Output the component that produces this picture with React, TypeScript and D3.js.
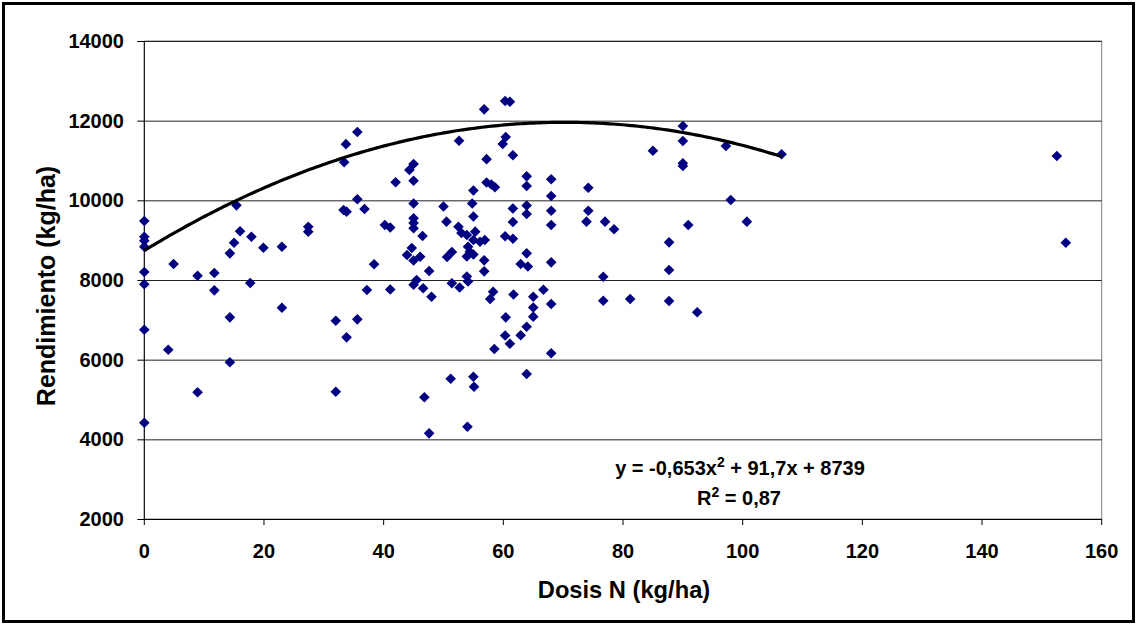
import React from 'react';
import * as d3 from 'd3';

const doseN = [
  33.7, 33.4, 15.4, 0, 0, 0, 0, 33.3, 33.8, 16.0, 15.0, 17.9, 27.4, 27.4, 14.3, 19.9, 23.0, 4.9, 0, 0,
  8.9, 11.7, 11.7, 17.7, 23.0, 14.3, 0, 32.0, 33.8, 4.0, 14.3, 8.9, 32.0, 0,
  35.6, 35.6, 36.8, 35.6, 38.4, 37.2, 40.2, 41.1, 41.1, 42.0, 44.3, 45.0, 45.0, 45.0, 45.0, 45.0,
  45.0, 46.5, 44.7, 43.9, 45.0, 46.1, 47.6, 45.5, 45.0, 46.6, 48.0, 46.8, 47.6, 50.0, 50.5, 51.4,
  50.6, 51.4, 52.7, 51.2, 52.6, 52.5, 53.0, 53.9, 53.9, 55.0, 53.9, 54.1, 55.0, 54.8, 55.0, 55.3,
  55.0, 54.1, 54.4, 56.1, 56.9, 56.8, 56.8, 55.0, 55.1, 54.0, 56.8, 57.2, 57.2, 58.0, 58.6, 58.3,
  57.8, 58.5, 60.3, 61.1, 60.4, 59.9, 61.6, 63.9, 63.9, 61.6, 61.6, 63.9, 63.9, 60.3, 61.6, 63.9,
  62.9, 64.1, 61.7, 60.4, 63.9, 62.9, 60.3, 61.1, 63.9, 65.0, 65.0, 65.0, 66.7, 68.0, 68.0, 68.0,
  68.0, 68.0, 68.0, 68.0, 74.2, 74.2, 73.9, 77.0, 78.5, 76.7, 76.7, 81.2, 85.0, 90.0, 90.0, 90.0,
  90.0, 87.7, 87.7, 87.7, 90.9, 92.4, 97.2, 98.0, 100.7, 106.5, 152.5, 154.0,
];

const yieldKg = [
  11410, 10955, 9875, 9481, 9087, 8987, 8836, 9757, 9715, 9223, 8936, 9087, 9338, 9213, 8670, 8811, 8836, 8402, 8201, 7892,
  8108, 8176, 7741, 7925, 7304, 7063, 6752, 6978, 6561, 6250, 5934, 5181, 5196, 4417,
  11715, 10026, 9782, 7013, 8394, 7749, 9381, 9318, 7761, 10453, 10761, 10912, 10493, 9920, 9549, 9431,
  9298, 9105, 8803, 8628, 8489, 8585, 8226, 8000, 7882, 7792, 7581, 5055, 4151, 9845, 9464, 8703,
  8577, 7917, 7812, 5520, 11495, 9338, 9180, 9130, 8590, 8640, 8088, 7962, 10247, 9920, 9594, 9213,
  9004, 8836, 8710, 8961, 9004, 8494, 8218, 5572, 5321, 4317, 12285, 11033, 10448, 10397, 10327, 7706,
  7523, 6268, 12494, 12476, 11590, 11414, 11131, 10603, 10360, 9795, 9456, 9870, 9657, 9097, 9037, 8670,
  8402, 8339, 7636, 7063, 6827, 6612, 6607, 6401, 5640, 7581, 7309, 7079, 7754, 10528, 10109, 9740,
  9381, 8444, 7397, 6160, 10317, 9740, 9464, 9464, 9273, 8083, 7480, 7523, 11246, 11866, 11489, 10930,
  10862, 8946, 8251, 7473, 9381, 7189, 11364, 10008, 9464, 11156, 11113, 8936,
];

const xTicks = [0, 20, 40, 60, 80, 100, 120, 140, 160];
const yTicks = [2000, 4000, 6000, 8000, 10000, 12000, 14000];

const trendA = -0.653;
const trendB = 91.7;
const trendC = 8739;
const trendXMax = 106.5;

const W = 1137;
const H = 625;
const FONT = '"Liberation Sans", Arial, sans-serif';

export default function App() {
  const x = d3.scaleLinear().domain([0, 160]).range([144.3, 1101.7]);
  const y = d3.scaleLinear().domain([2000, 14000]).range([519, 41]);

  const trendXs = d3.range(0, trendXMax + 0.001, trendXMax / 200);
  const trendPts = trendXs.map((v) => [v, trendA * v * v + trendB * v + trendC] as [number, number]);
  const line = d3
    .line<[number, number]>()
    .x((d) => x(d[0]))
    .y((d) => y(d[1]))
    .curve(d3.curveLinear);

  const diamond = d3.symbol().type(d3.symbolDiamond2).size(72)();

  const [x0, x1] = x.range();
  const [yb, yt] = y.range();

  return (
    <svg
      width={W}
      height={H}
      style={{ position: 'absolute', left: 0, top: 0, background: '#fff' }}
      fontFamily={FONT}
      fontWeight="bold"
    >
      <rect x={0} y={0} width={W} height={H} fill="#fff" />
      <rect x={3.5} y={3.5} width={W - 7} height={H - 7} fill="none" stroke="#000" strokeWidth={3} />

      {/* plot area border */}
      <rect x={x0} y={yt} width={x1 - x0} height={yb - yt} fill="#fff" stroke="#808080" strokeWidth={1} />

      {/* gridlines */}
      {yTicks.map((t) => (
        <line key={'g' + t} x1={x0} x2={x1} y1={y(t) + 0.5} y2={y(t) + 0.5} stroke="#222" strokeWidth={1} />
      ))}

      {/* axes */}
      <line x1={x0} x2={x0} y1={yt} y2={yb} stroke="#000" strokeWidth={1} />
      <line x1={x0} x2={x1} y1={yb + 0.5} y2={yb + 0.5} stroke="#000" strokeWidth={1} />

      {yTicks.map((t) => (
        <g key={'yt' + t}>
          <line x1={x0 - 7} x2={x0} y1={y(t) + 0.5} y2={y(t) + 0.5} stroke="#000" />
          <text x={124} y={y(t)} dy="0.35em" textAnchor="end" fontSize={20} fill="#000">
            {t}
          </text>
        </g>
      ))}

      {xTicks.map((t) => (
        <g key={'xt' + t}>
          <line x1={x(t)} x2={x(t)} y1={yb} y2={yb + 6} stroke="#000" />
          <text x={x(t)} y={551} dy="0.35em" textAnchor="middle" fontSize={20} fill="#000">
            {t}
          </text>
        </g>
      ))}

      {/* points */}
      {doseN.map((d, i) => (
        <path key={'p' + i} d={diamond || ''} transform={`translate(${x(d)},${y(yieldKg[i])})`} fill="#000080" />
      ))}

      {/* trendline */}
      <path d={line(trendPts) || ''} fill="none" stroke="#000" strokeWidth={3.2} />

      {/* equation */}
      <text x={740} y={468} dy="0.35em" textAnchor="middle" fontSize={20} fill="#000">
        y = -0,653x<tspan dy="-8" fontSize={14}>2</tspan>
        <tspan dy="8"> + 91,7x + 8739</tspan>
      </text>
      <text x={739} y={498} dy="0.35em" textAnchor="middle" fontSize={20} fill="#000">
        R<tspan dy="-8" fontSize={14}>2</tspan>
        <tspan dy="8"> = 0,87</tspan>
      </text>

      {/* axis titles */}
      <text x={624} y={590} dy="0.35em" textAnchor="middle" fontSize={23.7} fill="#000">
        Dosis N (kg/ha)
      </text>
      <text
        transform={`translate(46,286) rotate(-90)`}
        dy="0.35em"
        textAnchor="middle"
        fontSize={25}
        fill="#000"
      >
        Rendimiento (kg/ha)
      </text>
    </svg>
  );
}
